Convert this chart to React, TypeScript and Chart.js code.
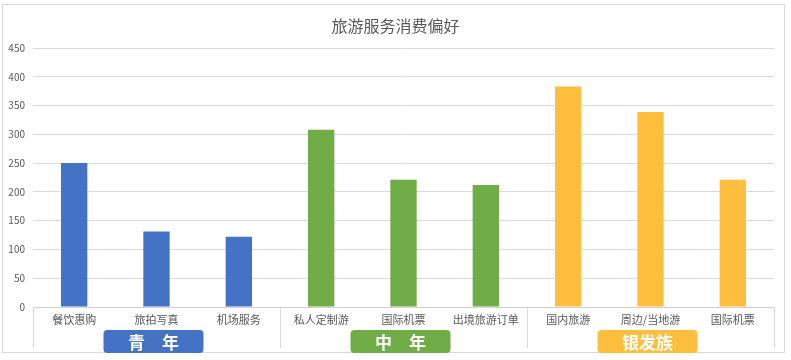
import React, { useEffect, useRef } from "react";
import { Chart, registerables } from "chart.js";

Chart.register(...registerables);

const title = "旅游服务消费偏好";
const categories = ["餐饮惠购", "旅拍写真", "机场服务", "私人定制游", "国际机票", "出境旅游订单", "国内旅游", "周边/当地游", "国际机票"];
const values = [250, 131, 122, 308, 221, 212, 383, 339, 221];
const groupNames = ["青　年", "中　年", "银发族"];
const groupSizes = [3, 3, 3];
const groupColors = ["#4472C4", "#70AD47", "#FFBF3C"];
const yTicks = [0, 50, 100, 150, 200, 250, 300, 350, 400, 450];

const FONT = "'Noto Sans CJK SC', 'Noto Sans', sans-serif";

const barColors: string[] = [];
groupSizes.forEach((n, g) => {
  for (let i = 0; i < n; i++) barColors.push(groupColors[g]);
});

function roundRect(ctx: CanvasRenderingContext2D, x: number, y: number, w: number, h: number, r: number) {
  ctx.beginPath();
  ctx.moveTo(x + r, y);
  ctx.lineTo(x + w - r, y);
  ctx.quadraticCurveTo(x + w, y, x + w, y + r);
  ctx.lineTo(x + w, y + h - r);
  ctx.quadraticCurveTo(x + w, y + h, x + w - r, y + h);
  ctx.lineTo(x + r, y + h);
  ctx.quadraticCurveTo(x, y + h, x, y + h - r);
  ctx.lineTo(x, y + r);
  ctx.quadraticCurveTo(x, y, x + r, y);
  ctx.closePath();
}

const decoPlugin = {
  id: "deco",
  beforeDraw(chart: any) {
    const ctx = chart.ctx as CanvasRenderingContext2D;
    ctx.save();
    ctx.fillStyle = "#ffffff";
    ctx.fillRect(0, 0, chart.width, chart.height);
    ctx.strokeStyle = "#d9d9d9";
    ctx.lineWidth = 1;
    ctx.strokeRect(2.5, 4.5, 782, 348);
    ctx.restore();
  },
  afterDraw(chart: any) {
    const ctx = chart.ctx as CanvasRenderingContext2D;
    const area = chart.chartArea;
    ctx.save();
    // title
    ctx.fillStyle = "#595959";
    ctx.font = `16px ${FONT}`;
    ctx.textAlign = "center";
    ctx.textBaseline = "middle";
    ctx.fillText(title, chart.width / 2, 26);
    // group separators
    const catW = (area.right - area.left) / categories.length;
    ctx.strokeStyle = "#d9d9d9";
    ctx.lineWidth = 1;
    let idx = 0;
    const bounds: number[] = [area.left];
    groupSizes.forEach((n) => {
      idx += n;
      bounds.push(area.left + idx * catW);
    });
    bounds.forEach((bx) => {
      const x = Math.round(bx) + 0.5;
      ctx.beginPath();
      ctx.moveTo(x, area.bottom);
      ctx.lineTo(x, 348);
      ctx.stroke();
    });
    // group boxes
    groupNames.forEach((name, g) => {
      const cx = (bounds[g] + bounds[g + 1]) / 2 - 3;
      const w = 100;
      const h = 23;
      const y = 330;
      ctx.fillStyle = groupColors[g];
      roundRect(ctx, cx - w / 2, y, w, h, 4);
      ctx.fill();
      ctx.fillStyle = "#ffffff";
      ctx.font = `bold 17px ${FONT}`;
      ctx.textAlign = "center";
      ctx.textBaseline = "middle";
      ctx.fillText(name, cx, y + h / 2 + 1);
    });
    ctx.restore();
  },
};

export default function App() {
  const ref = useRef<HTMLCanvasElement | null>(null);
  useEffect(() => {
    document.body.style.margin = "0";
    if (!ref.current) return;
    const chart = new Chart(ref.current, {
      type: "bar",
      data: {
        labels: categories,
        datasets: [
          {
            data: values,
            backgroundColor: barColors,
            barPercentage: 0.32,
            categoryPercentage: 1,
          },
        ],
      },
      options: {
        animation: false,
        responsive: false,
        layout: { padding: { top: 48, right: 17, bottom: 0, left: 0 } },
        plugins: {
          legend: { display: false },
          title: { display: false },
          tooltip: { enabled: false },
        },
        scales: {
          x: {
            grid: { display: false, drawTicks: false },
            border: { display: true, color: "#d0d0d0" },
            ticks: { color: "#595959", font: { size: 11, family: FONT }, padding: 6, maxRotation: 0, autoSkip: false },
            afterFit: (s: any) => {
              s.height = 53;
            },
          },
          y: {
            min: 0,
            max: 450,
            afterBuildTicks: (s: any) => {
              s.ticks = yTicks.map((v) => ({ value: v }));
            },
            grid: { color: "#d9d9d9", drawTicks: false },
            border: { display: false },
            ticks: { color: "#595959", font: { size: 10, family: FONT }, padding: 8 },
            afterFit: (s: any) => {
              s.width = 33;
            },
          },
        },
      },
      plugins: [decoPlugin],
    });
    return () => chart.destroy();
  }, []);
  return <canvas ref={ref} width={791} height={360} style={{ display: "block" }} />;
}
